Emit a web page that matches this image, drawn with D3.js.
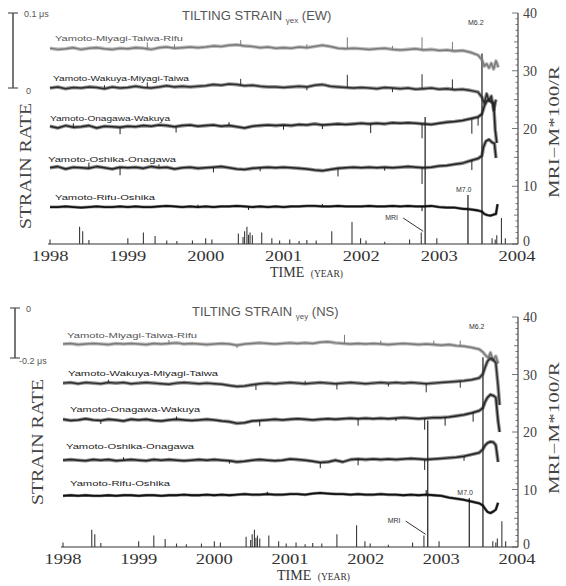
<!DOCTYPE html>
<html>
<head>
<meta charset="utf-8">
<script src="https://cdn.jsdelivr.net/npm/d3@7"></script>
<style>
  html, body { margin: 0; padding: 0; background: #fff; }
  svg { display: block; }
  .sans { font-family: "Liberation Sans", Arial, sans-serif; }
  .serif { font-family: "Liberation Serif", "Times New Roman", serif; }
</style>
</head>
<body>
<div id="chart"></div>
<script>
// station triplets (same order in both panels)
const traceNames = [
  'Yamoto-Miyagi-Taiwa-Rifu',
  'Yamoto-Wakuya-Miyagi-Taiwa',
  'Yamoto-Onagawa-Wakuya',
  'Yamoto-Oshika-Onagawa',
  'Yamoto-Rifu-Oshika'
];
const yearTicks = [1998, 1999, 2000, 2001, 2002, 2003, 2004];
const mriTicks = [0, 10, 20, 30, 40];

// trace base level, in MRI axis units
const ewBase = [33.8, 27.0, 20.3, 13.2, 6.4];
const nsBase = [35.3, 28.5, 22.1, 15.1, 8.9];

// deviations, one value every 0.1 yr from 1998.0 to 2003.5
const ew1 = [0.1,-0.1,0.0,0.2,-0.1,0.1,0.2,0.0,-0.1,0.1, 0.0,0.2,0.1,-0.1,0.2,0.3,0.1,0.2,0.3,0.2,
  0.3,0.5,0.4,0.6,0.7,0.5,0.4,0.2,0.3,0.1, 0.2,0.1,0.3,0.2,0.4,0.6,0.4,0.1,0.0,0.1,
  0.0,-0.1,0.0,0.1,-0.1,-0.2,-0.1,0.0,-0.2,-0.1, -0.3,-0.2,-0.4,-0.3,-0.6,-1.1];
const ew2 = [0.0,0.2,-0.1,0.1,0.0,0.2,0.1,-0.1,0.2,0.0, 0.1,0.3,0.1,0.0,0.2,0.4,0.2,0.3,0.2,0.3,
  0.4,0.6,0.5,0.7,0.6,0.4,0.5,0.3,0.2,0.2, 0.1,0.2,0.3,0.2,0.5,0.6,0.3,0.2,0.1,0.0,
  0.1,0.0,-0.1,0.1,0.0,-0.1,0.0,-0.2,-0.1,0.0, -0.2,-0.1,-0.3,-0.2,-0.4,-0.7];
const ew3 = [0.1,-0.2,0.2,-0.1,0.0,0.2,-0.2,0.1,0.0,-0.1, 0.1,0.0,0.2,0.1,0.3,0.2,0.0,0.2,0.3,0.1,
  0.2,0.3,0.1,0.2,0.0,-0.2,0.1,0.2,0.3,0.2, 0.3,0.2,0.4,0.3,0.5,0.3,0.4,0.5,0.4,0.5,
  0.6,0.5,0.6,0.5,0.7,0.6,0.7,0.6,0.5,0.4, 0.6,0.8,0.9,1.1,1.4,1.7];
const ew4 = [0.0,0.2,-0.2,0.1,0.0,-0.1,0.2,0.0,-0.2,0.1, 0.0,0.1,-0.1,0.2,0.0,0.1,-0.2,0.0,0.1,-0.1,
  0.0,0.1,0.2,0.0,-0.2,-0.3,-0.1,0.0,0.1,0.0, 0.1,0.0,-0.1,-0.2,-0.4,-0.5,-0.3,-0.1,0.0,0.1,
  0.0,0.1,0.0,0.1,0.0,0.1,0.2,0.1,0.0,0.1, 0.3,0.4,0.6,0.8,1.2,1.6];
const ew5 = [0.0,0.0,0.1,0.0,-0.1,0.0,0.1,0.0,0.0,0.1, 0.0,0.1,0.0,0.0,0.1,0.2,0.1,0.0,0.1,0.0,
  0.1,0.0,0.1,0.1,0.2,0.1,0.0,0.1,0.0,0.1, 0.0,0.1,0.1,0.2,0.2,0.1,0.1,0.2,0.1,0.1,
  0.1,0.2,0.1,0.1,0.2,0.1,0.2,0.1,0.1,0.2, 0.0,-0.1,-0.1,-0.3,-0.4,-0.6];

const ns1 = [0.0,0.1,-0.1,0.0,0.1,0.0,-0.1,0.1,0.0,0.1, 0.0,-0.1,0.1,0.0,0.1,0.2,0.0,0.1,0.0,-0.1,
  0.0,0.1,0.0,-0.2,0.0,0.1,0.2,0.1,0.0,0.1, 0.2,0.1,0.2,0.1,0.3,0.4,0.2,0.1,0.0,0.1,
  0.0,0.1,0.0,-0.1,0.0,0.1,0.0,-0.1,0.0,-0.1, -0.2,-0.1,-0.3,-0.4,-0.6,-0.9];
const ns2 = [0.0,0.1,-0.1,0.1,0.0,-0.1,0.1,0.0,0.1,-0.1, 0.0,0.1,0.0,-0.1,-0.2,0.0,0.1,0.0,-0.1,0.0,
  -0.1,-0.2,-0.4,-0.6,-0.5,-0.3,-0.1,0.0,-0.1,0.0, 0.1,0.0,-0.1,0.0,0.1,0.0,-0.1,0.0,0.1,0.0,
  -0.1,0.0,0.1,0.0,0.1,0.0,0.1,0.0,-0.1,0.0, 0.1,0.2,0.3,0.4,0.6,0.9];
const ns3 = [0.1,-0.1,0.0,0.2,0.0,-0.1,0.1,0.0,-0.2,0.1, 0.0,0.1,-0.1,-0.2,0.0,0.1,0.0,-0.1,0.0,0.1,
  0.0,-0.2,-0.3,-0.6,-0.5,-0.2,-0.1,0.0,0.1,0.0, 0.1,0.2,0.1,0.0,0.1,0.2,0.1,0.2,0.3,0.2,
  0.3,0.2,0.3,0.2,0.3,0.4,0.3,0.2,0.3,0.4, 0.4,0.5,0.7,0.9,1.2,1.6];
const ns4 = [0.0,0.1,0.0,-0.1,0.1,0.0,0.1,-0.1,0.0,0.1, 0.0,-0.1,0.1,0.0,0.1,0.0,-0.1,0.0,0.1,0.0,
  0.1,0.0,-0.1,-0.3,-0.2,0.0,0.1,0.0,-0.1,0.0, 0.2,0.1,0.0,-0.2,-0.4,-0.3,0.0,-0.3,0.1,0.2,
  0.1,0.2,0.1,0.2,0.1,0.2,0.3,0.2,0.1,0.2, 0.3,0.4,0.5,0.7,1.0,1.3];
const ns5 = [0.0,0.1,0.0,0.1,0.0,0.0,0.1,0.0,0.1,0.1, 0.0,0.1,0.1,0.0,0.1,0.1,0.2,0.1,0.1,0.2,
  0.1,0.2,0.1,0.2,0.3,0.2,0.2,0.3,0.2,0.2, 0.3,0.3,0.2,0.4,0.5,0.4,0.3,0.3,0.2,0.3,
  0.2,0.2,0.3,0.2,0.2,0.1,0.2,0.1,0.2,0.1, 0.0,-0.3,-0.5,-0.7,-1.0,-1.3];

// end of each record after 2003.5: [year, deviation]
const ewTails = [
  [[2003.55,-1.9],[2003.58,-3.0],[2003.61,-2.6],[2003.64,-3.3],[2003.67,-2.5],[2003.7,-3.5],[2003.73,-2.1],[2003.76,-3.2]],
  [[2003.55,-1.6],[2003.58,-2.6],[2003.61,-1.0],[2003.64,-2.2],[2003.67,-1.4],[2003.7,-3.8],[2003.73,-2.0]],
  [[2003.55,2.2],[2003.58,3.6],[2003.61,4.4],[2003.64,4.7],[2003.67,4.3],[2003.7,4.1],[2003.72,-0.5],[2003.74,-2.8]],
  [[2003.55,2.1],[2003.57,3.6],[2003.6,4.6],[2003.64,4.9],[2003.68,4.4],[2003.71,4.2],[2003.73,1.7]],
  [[2003.55,-0.8],[2003.58,-1.2],[2003.62,-1.4],[2003.66,-1.5],[2003.7,-1.3],[2003.73,-1.2],[2003.75,0.5]]
];
const nsTails = [
  [[2003.55,-1.4],[2003.58,-1.9],[2003.62,-2.4],[2003.65,-1.5],[2003.68,-2.8],[2003.72,-2.1],[2003.75,-3.4]],
  [[2003.55,1.6],[2003.58,2.8],[2003.61,3.8],[2003.65,4.3],[2003.69,4.0],[2003.72,3.5],[2003.75,-0.5],[2003.77,-3.8]],
  [[2003.55,2.1],[2003.58,3.2],[2003.61,3.9],[2003.65,4.4],[2003.69,4.2],[2003.72,3.9],[2003.75,-0.2],[2003.77,-2.1]],
  [[2003.55,1.9],[2003.58,2.6],[2003.61,3.0],[2003.65,3.2],[2003.69,3.1],[2003.72,2.6],[2003.75,-0.3]],
  [[2003.55,-1.7],[2003.58,-2.3],[2003.61,-2.8],[2003.65,-3.0],[2003.69,-2.7],[2003.72,-2.4],[2003.75,-1.2]]
];

// short spikes on the records: [trace, year, jump]
const ewSpikes = [
  [0,1999.25,1.2],[0,1999.6,0.7],[0,2000.45,1.0],[0,2001.3,0.6],[0,2001.82,2.0],[0,2002.4,0.6],[0,2002.78,2.2],[0,2003.17,1.6],
  [1,1998.7,0.6],[1,1999.25,1.0],[1,2000.45,1.2],[1,2001.3,-0.6],[1,2001.82,2.2],[1,2002.4,-0.7],[1,2002.78,2.5],[1,2003.17,1.8],
  [2,1998.3,0.7],[2,1998.9,-1.2],[2,1999.62,-1.0],[2,2000.3,0.6],[2,2001.0,-0.8],[2,2001.5,-0.7],[2,2002.12,-1.6],[2,2002.78,-2.5],[2,2003.42,-2.6],[2,2003.5,-1.5],
  [3,1998.5,1.0],[3,1998.9,-1.4],[3,1999.4,0.6],[3,2000.1,-0.9],[3,2000.7,-0.6],[3,2001.7,-1.4],[3,2002.3,-0.6],[3,2002.78,-2.8],[3,2003.42,-1.6],
  [4,1999.9,0.4],[4,2000.55,-0.6],[4,2001.5,0.4],[4,2002.78,-0.8]
];
const nsSpikes = [
  [0,1999.4,0.6],[0,2000.3,-0.5],[0,2001.72,1.5],[0,2002.2,0.6],[0,2002.9,0.7],[0,2003.25,1.0],
  [1,1998.6,0.5],[1,2000.55,-0.9],[1,2001.2,0.5],[1,2001.62,-1.0],[1,2002.3,-0.6],[1,2002.8,-1.5],[1,2003.25,-1.2],
  [2,1998.5,-0.6],[2,1999.5,0.5],[2,2000.6,-1.0],[2,2001.9,-1.2],[2,2002.4,-0.5],[2,2002.78,-2.0],[2,2003.05,-1.4],[2,2003.42,-1.5],
  [3,1998.8,0.5],[3,2000.2,-0.5],[3,2001.4,-1.0],[3,2001.9,-1.1],[3,2002.78,-1.8],[3,2003.3,-0.8],
  [4,2000.7,0.4],[4,2002.8,0.8]
];

// MRI - M*100/R bars: [year, value]
const mriBars = [
  [1998.0,0.8],[1998.38,3.0],[1998.42,2.2],[1998.5,0.7],[1999.0,1.0],[1999.2,2.0],[1999.35,1.4],
  [1999.5,0.6],[1999.63,0.5],[1999.83,0.6],[2000.0,1.0],[2000.08,0.8],[2000.42,1.8],[2000.48,1.2],
  [2000.5,2.2],[2000.53,3.0],[2000.55,1.6],[2000.57,2.0],[2000.6,1.5],[2000.72,2.0],[2000.85,1.0],
  [2000.95,0.6],[2001.08,0.8],[2001.2,0.5],[2001.3,0.7],[2001.42,0.6],[2001.62,2.2],[2001.88,3.8],
  [2001.99,1.0],[2002.06,0.6],[2002.3,0.4],[2002.62,0.8],[2002.77,2.0],[2002.82,22],[2002.97,1.0],
  [2003.37,8.5],[2003.55,33],[2003.68,1.0],[2003.72,0.8],[2003.74,1.5],[2003.8,4.5],[2003.85,1.0]
];

const traceColors = ['#7a7a7a', '#2e2e2e', '#222', '#222', '#111'];

const width = 566, height = 586;
const svg = d3.select('#chart').append('svg')
  .attr('width', width).attr('height', height);

const panels = [
  {
    top: true, xRange: [50, 517], yRange: [244, 13], base: ewBase,
    series: [ew1, ew2, ew3, ew4, ew5], tails: ewTails, spikes: ewSpikes,
    title: ['TILTING STRAIN ', 'γex', '  (EW)'], titleX: 182, titleY: 20,
    bar: { x: 13, y0: 13, y1: 88, top: '0.1 μs', bottom: '0' },
    labelPos: [[55, 41], [53, 81], [50, 121], [48, 162], [55, 200]],
    labelW: [128, 136, 120, 128, 100],
    strainX: 25, strainY: 166, mriY: 132, timeY: 277, timeX: 270
  },
  {
    top: false, xRange: [63, 517], yRange: [547, 317], base: nsBase,
    series: [ns1, ns2, ns3, ns4, ns5], tails: nsTails, spikes: nsSpikes,
    title: ['TILTING STRAIN ', 'γey', '  (NS)'], titleX: 192, titleY: 316,
    bar: { x: 15, y0: 308, y1: 358, top: '0', bottom: '-0.2 μs' },
    labelPos: [[67, 338], [68, 376], [70, 412], [66, 449], [70, 486]],
    labelW: [130, 150, 130, 128, 100],
    strainX: 37, strainY: 442, mriY: 428, timeY: 580, timeX: 277
  }
];

panels.forEach(p => {
  const x = d3.scaleLinear().domain([1998, 2004]).range(p.xRange);
  const y = d3.scaleLinear().domain([0, 40]).range(p.yRange);
  const g = svg.append('g');
  const axisX = x(2004) + 1;

  // bottom time line
  g.append('line')
    .attr('x1', x(1998) - 2).attr('x2', axisX)
    .attr('y1', y(0)).attr('y2', y(0))
    .attr('stroke', '#333').attr('stroke-width', 1.2);

  // MRI bars
  g.append('g').selectAll('line')
    .data(mriBars)
    .join('line')
    .attr('x1', d => x(d[0])).attr('x2', d => x(d[0]))
    .attr('y1', y(0)).attr('y2', d => y(d[1]))
    .attr('stroke', '#3a3a3a')
    .attr('stroke-width', d => d[1] > 5 ? 1.4 : 1.1);

  // right axis (MRI-M*100/R)
  g.append('line')
    .attr('x1', axisX).attr('x2', axisX)
    .attr('y1', y(0)).attr('y2', y(40))
    .attr('stroke', '#444').attr('stroke-width', 1.2);
  g.append('g').selectAll('line')
    .data(d3.range(0, 41))
    .join('line')
    .attr('x1', axisX).attr('x2', d => axisX - (d % 10 === 0 ? 6 : (d % 5 === 0 ? 4 : 2.5)))
    .attr('y1', d => y(d)).attr('y2', d => y(d))
    .attr('stroke', '#555').attr('stroke-width', 0.8);
  g.append('g').selectAll('text')
    .data(mriTicks)
    .join('text')
    .attr('class', 'serif')
    .attr('x', axisX + 5).attr('y', d => y(d) + (d === 0 ? 2 : 5))
    .attr('font-size', 14).attr('fill', '#444')
    .text(d => d);

  g.append('text')
    .attr('class', 'serif')
    .attr('transform', `translate(${axisX + 41},${p.mriY}) rotate(-90)`)
    .attr('text-anchor', 'middle')
    .attr('font-size', 14).attr('fill', '#444')
    .attr('textLength', 132).attr('lengthAdjust', 'spacingAndGlyphs')
    .text('MRI−M*100/R');

  // year labels
  g.append('g').selectAll('text')
    .data(yearTicks)
    .join('text')
    .attr('class', 'serif')
    .attr('x', d => x(d)).attr('y', y(0) + 17)
    .attr('text-anchor', 'middle')
    .attr('font-size', 14).attr('fill', '#333')
    .attr('textLength', 37).attr('lengthAdjust', 'spacingAndGlyphs')
    .text(d => d);

  const timeLabel = g.append('text')
    .attr('class', 'serif')
    .attr('x', p.timeX).attr('y', p.timeY)
    .attr('fill', '#333');
  timeLabel.append('tspan').attr('font-size', 14).text('TIME ');
  timeLabel.append('tspan').attr('font-size', 9.5).attr('dx', 3).text('(YEAR)');

  // left side: strain rate label and scale bar
  g.append('text')
    .attr('class', 'serif')
    .attr('transform', `translate(${p.strainX + 6},${p.strainY}) rotate(-90)`)
    .attr('text-anchor', 'middle')
    .attr('font-size', 17).attr('fill', '#444')
    .attr('textLength', 126).attr('lengthAdjust', 'spacingAndGlyphs')
    .text('STRAIN RATE');

  const b = p.bar;
  g.append('line')
    .attr('x1', b.x).attr('x2', b.x).attr('y1', b.y0).attr('y2', b.y1)
    .attr('stroke', '#555').attr('stroke-width', 1.6);
  [b.y0, b.y1].forEach(yy => {
    g.append('line')
      .attr('x1', b.x - 5).attr('x2', b.x + 5).attr('y1', yy).attr('y2', yy)
      .attr('stroke', '#555').attr('stroke-width', 1.2);
  });
  g.append('text').attr('class', 'sans')
    .attr('x', b.x + 11).attr('y', b.y0 + 4)
    .attr('font-size', 9).attr('fill', '#555')
    .text(b.top);
  g.append('text').attr('class', 'sans')
    .attr('x', b.x + (p.top ? 13 : 4)).attr('y', b.y1 + 6)
    .attr('font-size', 9).attr('fill', '#555')
    .text(b.bottom);

  // title
  const title = g.append('text').attr('class', 'sans')
    .attr('x', p.titleX).attr('y', p.titleY)
    .attr('fill', '#555').attr('font-size', 13);
  title.append('tspan').text(p.title[0]);
  title.append('tspan').attr('font-size', 8).attr('dy', 3).text(p.title[1]);
  title.append('tspan').attr('dy', -3).text(p.title[2]);

  // records
  const line = d3.line()
    .x(d => x(d[0]))
    .y(d => d[1]);

  p.series.forEach((vals, i) => {
    const pts = vals.map((v, k) => [1998 + k * 0.1, y(p.base[i] + v)])
      .concat(p.tails[i].map(t => [t[0], y(p.base[i] + t[1])]));
    const col = traceColors[i];
    g.append('path')
      .attr('d', line(pts))
      .attr('fill', 'none').attr('stroke', col)
      .attr('stroke-width', i === 4 ? 3 : 3.6)
      .attr('stroke-opacity', 0.5)
      .attr('stroke-linejoin', 'round');
    g.append('path')
      .attr('d', line(pts))
      .attr('fill', 'none').attr('stroke', col)
      .attr('stroke-width', i === 4 ? 1.8 : 1.5)
      .attr('stroke-linejoin', 'round');

    // label
    g.append('text').attr('class', 'sans')
      .attr('x', p.labelPos[i][0]).attr('y', p.labelPos[i][1])
      .attr('font-size', 8).attr('fill', i === 0 ? '#555' : '#222')
      .attr('textLength', p.labelW[i]).attr('lengthAdjust', 'spacingAndGlyphs')
      .text(traceNames[i]);
  });

  // spikes
  g.append('g').selectAll('line')
    .data(p.spikes)
    .join('line')
    .attr('x1', d => x(d[1])).attr('x2', d => x(d[1]))
    .attr('y1', d => {
      const k = Math.round((d[1] - 1998) * 10);
      return y(p.base[d[0]] + p.series[d[0]][Math.min(k, 55)]);
    })
    .attr('y2', d => {
      const k = Math.round((d[1] - 1998) * 10);
      return y(p.base[d[0]] + p.series[d[0]][Math.min(k, 55)] + d[2]);
    })
    .attr('stroke', d => traceColors[d[0]])
    .attr('stroke-width', 1);

  // event annotations
  const ann = g.append('g').attr('class', 'sans').attr('fill', '#333').attr('font-size', 7);
  ann.append('text').attr('x', x(2003.55) - 14).attr('y', y(38.5) + 3).text('M6.2');
  ann.append('text').attr('x', x(2003.37) - 12).attr('y', y(9.4) + 2).text('M7.0');
  ann.append('text').attr('x', x(2002.82) - 40).attr('y', y(4.5) + 2).text('MRI');
  g.append('line')
    .attr('x1', x(2002.82) - 22).attr('y1', y(4.5))
    .attr('x2', x(2002.82) - 2).attr('y2', y(2.2))
    .attr('stroke', '#333').attr('stroke-width', 1);
});
</script>
</body>
</html>
